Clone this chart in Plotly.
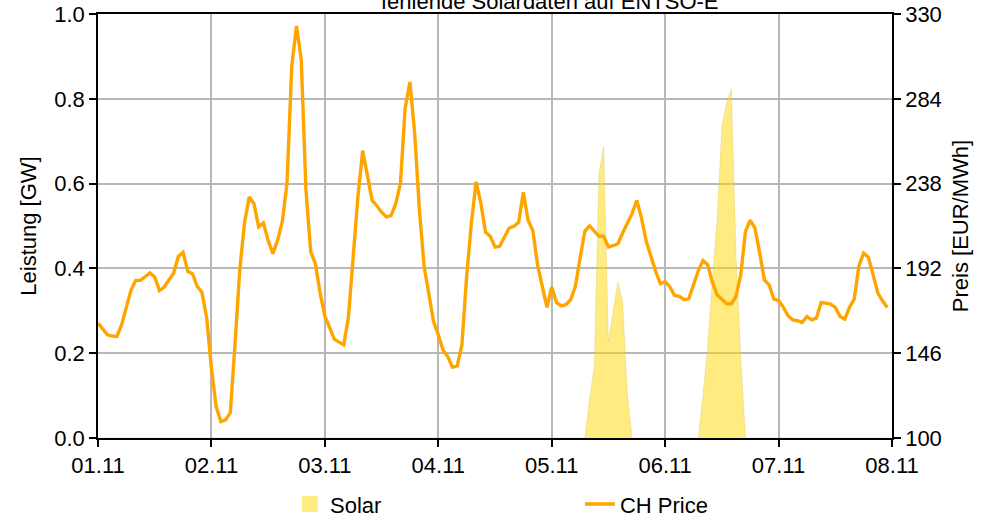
import plotly.graph_objects as go
import pandas as pd

# hourly timestamps, 01.11 00:00 .. 07.11 23:00
hours = pd.date_range("2023-11-01 00:00", periods=168, freq="h")

ch_price = [
    162.3, 159.0, 156.0, 155.3, 155.1, 161.4, 171.0, 180.4, 185.5, 185.5, 187.5, 189.5,
    187.3, 180.0, 181.9, 185.7, 189.5, 198.5, 200.7, 190.4, 189.1, 182.2, 179.0, 165.0,
    137.8, 117.0, 108.9, 109.8, 113.8, 151.4, 191.3, 216.6, 230.8, 227.1, 214.5, 216.6,
    207.2, 200.0, 207.2, 217.5, 238.4, 301.7, 323.5, 305.4, 234.7, 201.2, 194.5, 178.6,
    166.0, 160.0, 153.6, 152.0, 150.5, 165.9, 198.5, 231.1, 255.9, 242.0, 228.9, 226.0,
    222.5, 219.9, 220.6, 227.1, 238.4, 279.1, 293.1, 265.5, 223.9, 193.1, 178.6, 163.2,
    156.0, 147.8, 144.2, 138.4, 139.1, 150.5, 187.7, 216.6, 238.9, 227.5, 211.6, 209.4,
    203.6, 204.0, 209.0, 213.9, 214.8, 217.0, 233.3, 218.1, 212.6, 194.0, 182.2, 170.8,
    181.9, 173.5, 171.7, 172.3, 175.0, 182.2, 197.6, 212.1, 215.1, 212.1, 209.4, 209.4,
    203.6, 204.3, 205.4, 211.2, 216.2, 221.7, 228.9, 219.3, 206.7, 198.5, 190.4, 183.7,
    184.9, 181.9, 177.3, 176.8, 175.0, 175.5, 183.1, 190.7, 196.3, 194.0, 184.4, 177.7,
    175.3, 172.8, 172.8, 176.8, 188.6, 212.1, 218.1, 213.9, 200.4, 185.8, 183.1, 175.3,
    174.6, 171.0, 166.3, 164.1, 163.6, 162.7, 165.9, 164.1, 165.0, 173.5, 173.2, 172.6,
    170.8, 165.9, 164.5, 170.8, 175.3, 193.4, 200.3, 198.1, 188.5, 178.6, 174.4, 170.8,
]

solar = [0.0] * 168
solar_day5 = {103: 0.0, 104: 0.09, 105: 0.17, 106: 0.625, 107: 0.688, 108: 0.228,
              109: 0.30, 110: 0.369, 111: 0.322, 112: 0.106, 113: 0.0}
solar_day6 = {127: 0.0, 128: 0.10, 129: 0.216, 130: 0.373, 131: 0.515, 132: 0.735,
              133: 0.79, 134: 0.824, 135: 0.43, 136: 0.19, 137: 0.0}
for k, v in {**solar_day5, **solar_day6}.items():
    solar[k] = v

x_ticks = pd.date_range("2023-11-01", periods=8, freq="D")
x_ticklabels = [d.strftime("%d.%m") for d in x_ticks]
y_ticks = [0.0, 0.2, 0.4, 0.6, 0.8, 1.0]
y2_ticks = [100, 146, 192, 238, 284, 330]

FONT = "Liberation Sans, Arial, sans-serif"
SOLAR_FILL = "rgba(255,215,0,0.5)"

fig = go.Figure()
fig.add_trace(go.Scatter(
    x=hours, y=solar, name="Solar", mode="lines", fill="tozeroy",
    fillcolor=SOLAR_FILL, line=dict(color="rgba(190,170,60,0.35)", width=0.6),
    showlegend=False, yaxis="y",
))
# legend entry for the solar area (square patch like the reference)
fig.add_trace(go.Scatter(
    x=[None], y=[None], name="Solar", mode="markers",
    marker=dict(symbol="square", size=21, color=SOLAR_FILL, line=dict(width=0)),
    legend="legend", yaxis="y",
))
fig.add_trace(go.Scatter(
    x=hours, y=ch_price, name="CH Price", mode="lines",
    line=dict(color="#FFA500", width=3.4), legend="legend2", yaxis="y2",
))

axis_common = dict(showline=True, linecolor="black", linewidth=1.5,
                   ticks="outside", ticklen=7, tickwidth=1.5, tickcolor="black",
                   tickfont=dict(size=22, color="black", family=FONT), zeroline=False,
                   automargin=False)

fig.update_layout(
    width=993, height=520,
    margin=dict(l=98, r=101, t=14, b=82, autoexpand=False),
    paper_bgcolor="white", plot_bgcolor="white",
    font=dict(family=FONT, size=22, color="black"),
    xaxis=dict(**axis_common, range=[hours[0], x_ticks[-1]], tickvals=list(x_ticks),
               ticktext=x_ticklabels, showgrid=True, gridcolor="#b8b8b8", gridwidth=1.5,
               mirror=True),
    yaxis=dict(**axis_common, range=[0, 1.0], tickvals=y_ticks,
               ticktext=[f"{v:.1f}" for v in y_ticks], showgrid=True,
               gridcolor="#b8b8b8", gridwidth=1.5,
               title=dict(text="Leistung [GW]", font=dict(size=22), standoff=12)),
    yaxis2=dict(**axis_common, range=[100, 330], tickvals=y2_ticks, overlaying="y",
                side="right", showgrid=False,
                title=dict(text="Preis [EUR/MWh]", font=dict(size=22), standoff=12)),
    legend=dict(orientation="h", x=0.2418, xanchor="left", y=-0.156, yanchor="middle",
                font=dict(size=22), bgcolor="rgba(0,0,0,0)"),
    legend2=dict(orientation="h", x=0.607, xanchor="left", y=-0.156, yanchor="middle",
                 font=dict(size=22), bgcolor="rgba(0,0,0,0)"),
    showlegend=True,
    annotations=[dict(text="fehlende Solardaten auf ENTSO-E", xref="paper", yref="paper",
                      x=(550 - 98) / 794, y=(438 - 2) / 424, xanchor="center",
                      yanchor="middle", showarrow=False, font=dict(size=22))],
)

fig.write_html(
    "out.html",
    config={"displayModeBar": False},
    post_script="document.body.style.margin='0px';document.body.style.overflow='hidden';",
)
